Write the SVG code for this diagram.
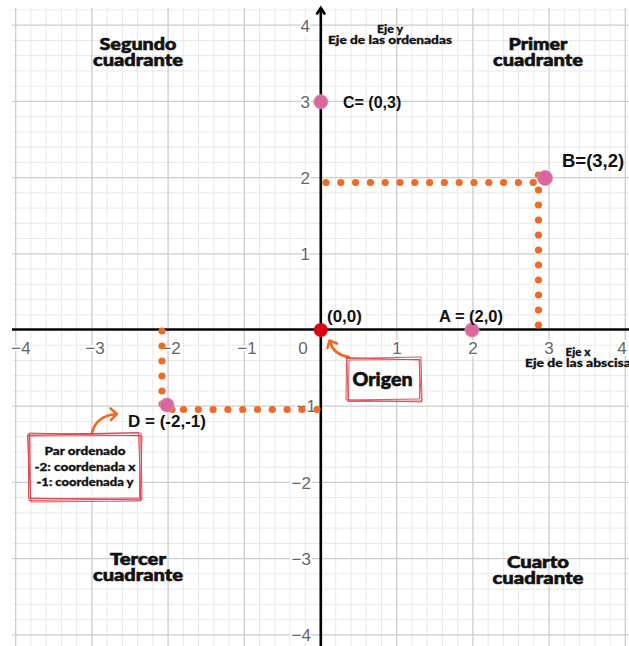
<svg xmlns="http://www.w3.org/2000/svg" width="629" height="646" viewBox="0 0 629 646">
<style>
.minor{stroke:#e8e8e8;stroke-width:1;fill:none}
.major{stroke:#cdcdcd;stroke-width:1.3;fill:none}
.axis{stroke:#000;stroke-width:2.6;fill:none}
.tick{font-family:"Liberation Sans",Arial,sans-serif;font-size:17px;fill:#666;stroke:#fff;stroke-width:4;paint-order:stroke;stroke-linejoin:round}
.pt{font-family:"Liberation Sans",Arial,sans-serif;font-weight:bold;fill:#111}
.quad{font-family:Lato,"Open Sans",sans-serif;font-weight:900;font-size:17px;fill:#111;stroke:#111;stroke-width:0.6;text-anchor:middle}
.small{font-family:Lato,"Open Sans",sans-serif;font-weight:900;font-size:12px;fill:#111;stroke:#111;stroke-width:0.3;text-anchor:middle}
.start{text-anchor:start}
.dot{fill:#f06a24}
.pink{fill:#d9669d;stroke:#e58ab5;stroke-width:1}
.sketch{fill:none;stroke:#d9424a;stroke-width:0.9}
.arrow{fill:none;stroke:#f06a24;stroke-width:2.6;stroke-linecap:round;stroke-linejoin:round}
</style>
<rect width="629" height="646" fill="#fff"/>
<g id="grid">
<path class="minor" d="M30.9,8V646M46.2,8V646M61.4,8V646M76.7,8V646M107.1,8V646M122.4,8V646M137.6,8V646M152.9,8V646M183.3,8V646M198.6,8V646M213.8,8V646M229.1,8V646M259.5,8V646M274.8,8V646M290,8V646M305.3,8V646M335.7,8V646M351,8V646M366.2,8V646M381.5,8V646M411.9,8V646M427.2,8V646M442.4,8V646M457.7,8V646M488.1,8V646M503.4,8V646M518.6,8V646M533.9,8V646M564.3,8V646M579.6,8V646M594.8,8V646M610.1,8V646
M12,10H629M12,40.4H629M12,55.7H629M12,70.9H629M12,86.2H629M12,116.6H629M12,131.9H629M12,147.1H629M12,162.4H629M12,192.8H629M12,208.1H629M12,223.3H629M12,238.6H629M12,269H629M12,284.3H629M12,299.5H629M12,314.8H629M12,345.2H629M12,360.5H629M12,375.7H629M12,391H629M12,421.4H629M12,436.7H629M12,451.9H629M12,467.2H629M12,497.6H629M12,512.9H629M12,528.1H629M12,543.4H629M12,573.8H629M12,589.1H629M12,604.3H629M12,619.6H629"/>
<path class="major" d="M15.7,8V646M91.9,8V646M168.1,8V646M244.3,8V646M396.7,8V646M472.9,8V646M549.1,8V646M625.3,8V646
M12,25.2H629M12,101.4H629M12,177.6H629M12,253.8H629M12,406.2H629M12,482.4H629M12,558.6H629M12,634.8H629"/>
</g>
<g id="axes">
<path class="axis" d="M12,329.5H629"/>
<path class="axis" d="M320.8,9V646"/>
<path class="axis" d="M316.5,14.5L320.8,8L325,14.5"/>
</g>
<g id="ticks">
<text class="tick" x="310" y="32" text-anchor="end">4</text>
<text class="tick" x="310" y="108" text-anchor="end">3</text>
<text class="tick" x="310" y="184" text-anchor="end">2</text>
<text class="tick" x="310" y="260" text-anchor="end">1</text>
<text class="tick" x="316" y="412" text-anchor="end">−1</text>
<text class="tick" x="311" y="489" text-anchor="end">−2</text>
<text class="tick" x="311" y="565" text-anchor="end">−3</text>
<text class="tick" x="311" y="641" text-anchor="end">−4</text>
<text class="tick" x="21" y="354" text-anchor="middle">−4</text>
<text class="tick" x="95" y="354" text-anchor="middle">−3</text>
<text class="tick" x="171" y="354" text-anchor="middle">−2</text>
<text class="tick" x="247" y="354" text-anchor="middle">−1</text>
<text class="tick" x="303" y="354" text-anchor="middle">0</text>
<text class="tick" x="397" y="354" text-anchor="middle">1</text>
<text class="tick" x="473" y="354" text-anchor="middle">2</text>
<text class="tick" x="549" y="354" text-anchor="middle">3</text>
<text class="tick" x="622" y="354" text-anchor="middle">4</text>
</g>
<g id="connectors">
<g id="dots-B">
<circle class="dot" cx="326" cy="182.5" r="3.6"/><circle class="dot" cx="340.8" cy="182.5" r="3.6"/><circle class="dot" cx="355.6" cy="182.5" r="3.6"/><circle class="dot" cx="370.4" cy="182.5" r="3.6"/><circle class="dot" cx="385.2" cy="182.5" r="3.6"/><circle class="dot" cx="400" cy="182.5" r="3.6"/><circle class="dot" cx="414.8" cy="182.5" r="3.6"/><circle class="dot" cx="429.6" cy="182.5" r="3.6"/><circle class="dot" cx="444.4" cy="182.5" r="3.6"/><circle class="dot" cx="459.2" cy="182.5" r="3.6"/><circle class="dot" cx="474" cy="182.5" r="3.6"/><circle class="dot" cx="488.8" cy="182.5" r="3.6"/><circle class="dot" cx="503.6" cy="182.5" r="3.6"/><circle class="dot" cx="518.4" cy="182.5" r="3.6"/><circle class="dot" cx="533.2" cy="182.5" r="3.6"/>
<circle class="dot" cx="538.5" cy="175" r="3.6"/><circle class="dot" cx="538.5" cy="190" r="3.6"/><circle class="dot" cx="538.5" cy="205" r="3.6"/><circle class="dot" cx="538.5" cy="220" r="3.6"/><circle class="dot" cx="538.5" cy="235" r="3.6"/><circle class="dot" cx="538.5" cy="250" r="3.6"/><circle class="dot" cx="538.5" cy="265" r="3.6"/><circle class="dot" cx="538.5" cy="280" r="3.6"/><circle class="dot" cx="538.5" cy="295" r="3.6"/><circle class="dot" cx="538.5" cy="310" r="3.6"/><circle class="dot" cx="538.5" cy="325" r="3.6"/>
</g>
<g id="dots-D">
<circle class="dot" cx="162" cy="331" r="3.6"/><circle class="dot" cx="162" cy="346" r="3.6"/><circle class="dot" cx="162" cy="361" r="3.6"/><circle class="dot" cx="162" cy="376" r="3.6"/><circle class="dot" cx="162" cy="391" r="3.6"/><circle class="dot" cx="162" cy="404" r="3.6"/>
<circle class="dot" cx="172" cy="409.5" r="3.6"/><circle class="dot" cx="183.5" cy="409.5" r="3.6"/><circle class="dot" cx="198.3" cy="409.5" r="3.6"/><circle class="dot" cx="213.1" cy="409.5" r="3.6"/><circle class="dot" cx="227.9" cy="409.5" r="3.6"/><circle class="dot" cx="242.7" cy="409.5" r="3.6"/><circle class="dot" cx="257.5" cy="409.5" r="3.6"/><circle class="dot" cx="272.3" cy="409.5" r="3.6"/><circle class="dot" cx="287.1" cy="409.5" r="3.6"/><circle class="dot" cx="301.9" cy="409.5" r="3.6"/><circle class="dot" cx="317" cy="409.5" r="3.6"/>
</g>
<path id="arrow-origen" class="arrow" d="M349,357 Q334,355 330,342 M327.5,348 L329.5,340.5 L337,343.5"/>
<path id="arrow-par" class="arrow" d="M92,433 Q96,416 116,414 M110.5,408.5 L117,414 L111,420"/>
</g>
<g id="point-O"><circle cx="320.8" cy="330" r="7" fill="#dc0412"/><text class="pt" x="327" y="322" font-size="17">(0,0)</text></g>
<g id="point-A"><circle class="pink" cx="472" cy="330" r="7"/><text class="pt" x="439" y="322" font-size="16.5">A = (2,0)</text></g>
<g id="point-B"><circle class="pink" cx="545" cy="178" r="7.5"/><text class="pt" x="562" y="167" font-size="18.5">B=(3,2)</text></g>
<g id="point-C"><circle class="pink" cx="320.8" cy="101.8" r="7"/><text class="pt" x="343" y="108" font-size="16">C= (0,3)</text></g>
<g id="point-D"><circle class="pink" cx="167" cy="405" r="7"/><text class="pt" x="128" y="427" font-size="17">D = (-2,-1)</text></g>
<g id="label-q2"><text class="quad" x="138" y="50" textLength="77" lengthAdjust="spacingAndGlyphs">Segundo</text><text class="quad" x="138" y="66" textLength="90" lengthAdjust="spacingAndGlyphs">cuadrante</text></g>
<g id="label-q1"><text class="quad" x="538" y="50" textLength="59" lengthAdjust="spacingAndGlyphs">Primer</text><text class="quad" x="538" y="66" textLength="90" lengthAdjust="spacingAndGlyphs">cuadrante</text></g>
<g id="label-q3"><text class="quad" x="138" y="565" textLength="56" lengthAdjust="spacingAndGlyphs">Tercer</text><text class="quad" x="138" y="581" textLength="90" lengthAdjust="spacingAndGlyphs">cuadrante</text></g>
<g id="label-q4"><text class="quad" x="538" y="568" textLength="62" lengthAdjust="spacingAndGlyphs">Cuarto</text><text class="quad" x="538" y="584" textLength="91" lengthAdjust="spacingAndGlyphs">cuadrante</text></g>
<g id="label-yaxis"><text class="small" x="390" y="33" textLength="26" lengthAdjust="spacingAndGlyphs">Eje y</text><text class="small" x="390" y="44" textLength="124" lengthAdjust="spacingAndGlyphs">Eje de las ordenadas</text></g>
<g id="label-xaxis"><text class="small" x="578" y="356" textLength="25" lengthAdjust="spacingAndGlyphs">Eje x</text><text class="small start" x="525" y="367" textLength="112" lengthAdjust="spacingAndGlyphs">Eje de las abscisas</text></g>
<g id="origen-box">
<rect x="348" y="358" width="73" height="43" fill="#fff" fill-opacity="0.6"/>
<path class="sketch" d="M347,358.5 L421,357 L422,401 L348,401.5 Z M349,360 L420,359.5 L419.5,399 L348.5,400 Z M346.5,357.5 L419,360 L421.5,402 L346,400 Z"/>
<text x="382.5" y="386" font-family="Lato,'Open Sans',sans-serif" font-weight="900" font-size="19" fill="#111" stroke="#111" stroke-width="0.6" text-anchor="middle" textLength="60" lengthAdjust="spacingAndGlyphs">Origen</text>
</g>
<g id="par-box">
<rect x="29" y="434" width="112" height="66" fill="#fff" fill-opacity="0.6"/>
<path class="sketch" d="M28,434 L141,433 L142,499 L29,500.5 Z M30,436 L140,435.5 L139.5,498 L30.5,498.5 Z M27.5,435.5 L138.5,432.5 L141,501 L31,502 Z M29.5,433 L142,436 L140.5,500 L28.5,498 Z"/>
<text class="small" x="85" y="455" font-size="11.5" textLength="81" lengthAdjust="spacingAndGlyphs">Par ordenado</text>
<text class="small" x="85" y="471" font-size="11.5" textLength="101" lengthAdjust="spacingAndGlyphs">-2: coordenada x</text>
<text class="small" x="85" y="486" font-size="11.5" textLength="97" lengthAdjust="spacingAndGlyphs">-1: coordenada y</text>
</g>
</svg>
